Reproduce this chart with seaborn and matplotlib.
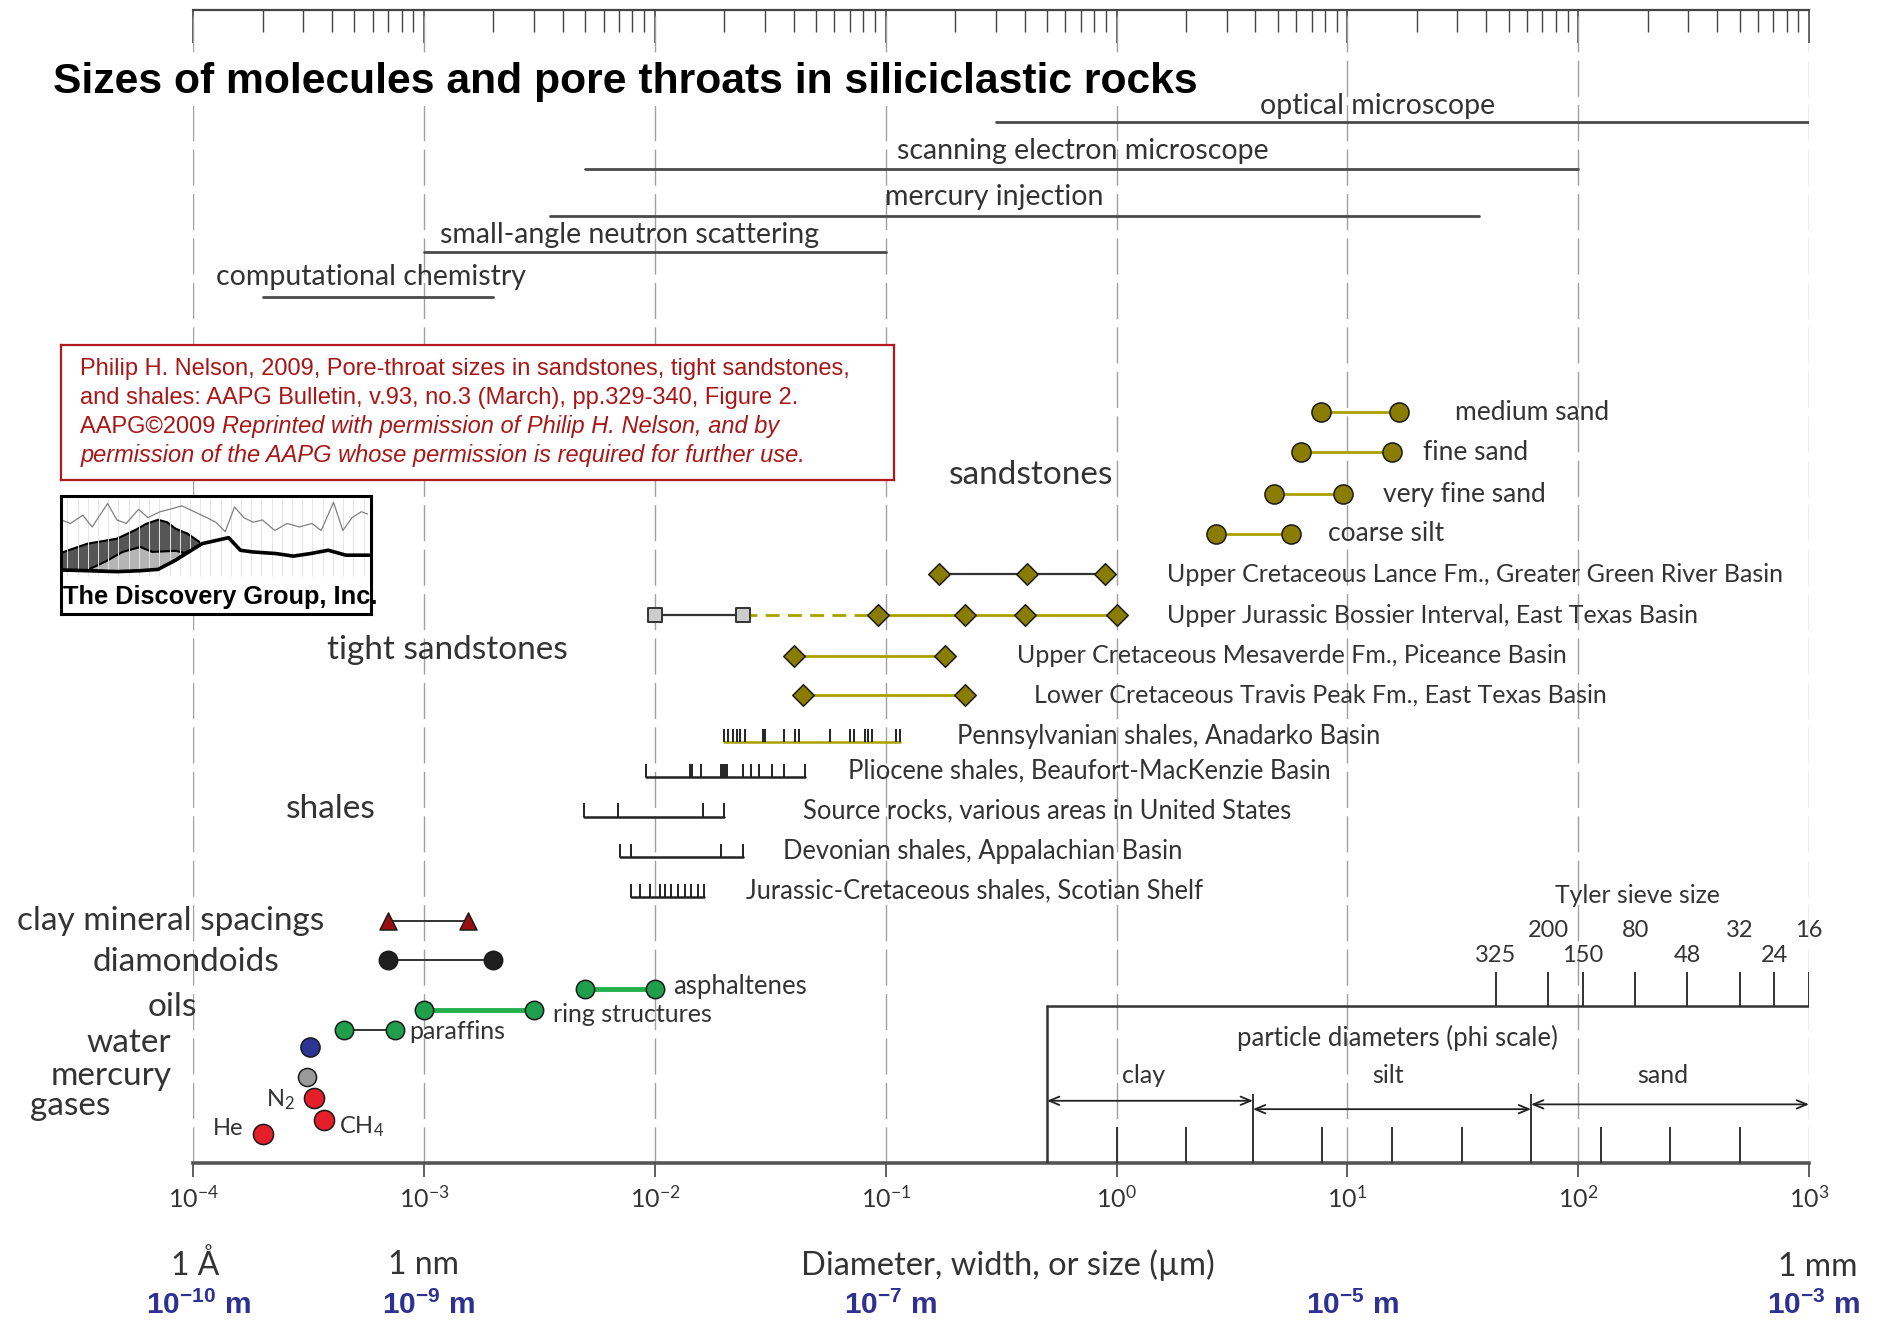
import numpy as np
import matplotlib
matplotlib.use("Agg")
import matplotlib.pyplot as plt
import seaborn as sns
from matplotlib import font_manager
from matplotlib.ticker import FixedLocator, FuncFormatter, LogLocator, NullFormatter

# ---- data: sizes in micrometres ----
instrument_names = ["optical microscope", "scanning electron microscope", "mercury injection",
                    "small-angle neutron scattering", "computational chemistry"]
instrument_min = [0.3, 0.005, 0.0035, 0.001, 0.0002]
instrument_max = [1000, 100, 37, 0.1, 0.002]

sand_names = ["medium sand", "fine sand", "very fine sand", "coarse silt"]
sand_min = [7.7, 6.3, 4.8, 2.7]
sand_max = [16.7, 15.6, 9.6, 5.7]

tight_names = ["Upper Cretaceous Lance Fm., Greater Green River Basin",
               "Upper Jurassic Bossier Interval, East Texas Basin",
               "Upper Cretaceous Mesaverde Fm., Piceance Basin",
               "Lower Cretaceous Travis Peak Fm., East Texas Basin"]
lance = [0.17, 0.41, 0.89]
bossier_squares = [0.010, 0.024]
bossier = [0.093, 0.22, 0.40, 1.0]
mesaverde = [0.040, 0.18]
travis_peak = [0.044, 0.22]

shale_names = ["Pennsylvanian shales, Anadarko Basin",
               "Pliocene shales, Beaufort-MacKenzie Basin",
               "Source rocks, various areas in United States",
               "Devonian shales, Appalachian Basin",
               "Jurassic-Cretaceous shales, Scotian Shelf"]
pennsylvanian = [0.0200, 0.0207, 0.0218, 0.0226, 0.0234, 0.0247, 0.0293, 0.0299, 0.0362,
                 0.0405, 0.0420, 0.0573, 0.0700, 0.0729, 0.0815, 0.0839, 0.0869, 0.111, 0.115]
pliocene = [0.00912, 0.0142, 0.0145, 0.0159, 0.0193, 0.0197, 0.0201, 0.0205, 0.0240,
            0.0262, 0.0282, 0.0321, 0.0362, 0.0447]
source_rocks = [0.00493, 0.00693, 0.0161, 0.0200]
devonian = [0.00707, 0.00787, 0.0193, 0.0240]
scotian = [0.00792, 0.00861, 0.00957, 0.0105, 0.0111, 0.0118, 0.0126, 0.0135,
           0.0144, 0.0154, 0.0164]

clay_spacings = [0.0007, 0.00155]
diamondoids = [0.0007, 0.002]
asphaltenes = [0.005, 0.01]
ring_structures = [0.001, 0.003]
paraffins = [0.00045, 0.00075]
water = [0.00032]
mercury = [0.00031]
gas_names = ["He", "N$_2$", "CH$_4$"]
gas_sizes = [0.0002, 0.000335, 0.00037]

sieve_mesh = ["325", "200", "150", "80", "48", "32", "24", "16"]
sieve_opening = [44, 74, 105, 177, 297, 500, 707, 1000]
phi_ticks = [0.5, 1, 2, 3.9, 7.8, 15.6, 31.25, 62.5, 125, 250, 500, 1000]
grain_classes = ["clay", "silt", "sand"]
grain_limits = [0.5, 3.9, 62.5, 1000]

decades = [-4, -3, -2, -1, 0, 1, 2, 3]
metre_exp = [-10, -9, -7, -5, -3]
metre_at = [1e-4, 1e-3, 1e-1, 10, 1000]

# logo sketch, percent of the logo box
logo_line_x = [0, 3, 7, 10, 15, 18, 21, 25, 28, 32, 35, 39, 43, 47, 50, 53, 56, 59,
               62, 65, 69, 73, 77, 81, 84, 88, 91, 94, 97, 99]
logo_line_y = [80, 77, 84, 74, 94, 80, 77, 89, 82, 87, 89, 92, 87, 82, 78, 70, 91, 82,
               78, 80, 71, 77, 74, 77, 71, 95, 71, 82, 87, 85]
logo_dark_x = [0, 8.5, 18, 23.7, 27.5, 31.3, 34.2, 37, 40.8, 45.5, 39.8, 37, 31.3, 25.6, 18, 8.5, 0]
logo_dark_y = [52, 59.8, 64, 71.1, 76.7, 80.1, 78.1, 72.5, 68.3, 59.8, 52, 45.8, 37.9, 36.8, 36, 36.8, 37.4]
logo_light_x = [8.5, 14.2, 19.9, 25.6, 29.4, 37, 39.8, 37, 31.3, 25.6, 18]
logo_light_y = [37.4, 44.4, 52.8, 57, 52.8, 53.7, 52, 45.8, 37.9, 36.8, 36]
logo_base_x = [0, 8.5, 18, 25.6, 31.3, 37, 45.5, 54.1, 57.9, 61.7, 69.3, 75, 80.6, 86.3, 92, 99.5]
logo_base_y = [37.4, 36.8, 36, 36.8, 37.9, 45.8, 59.8, 64.9, 54.2, 52.8, 51.4, 49.2, 51.4, 54.2, 50, 50]

# ---- layout (reference pixels, 1568 x 1110) ----
row_y = {
    "instruments": [102, 141, 180, 210, 248],
    "sand": [344, 377, 412, 445],
    "tight": [479, 513, 547, 580],
    "shale": [619, 648, 681, 715, 748],
    "clay": 768, "diamondoids": 801, "asphaltenes": 825, "ring": 842,
    "paraffins": 859, "water": 873, "mercury": 898, "gases": [946, 916, 934],
}

installed = {f.name for f in font_manager.fontManager.ttflist}


def pick(*names):
    for n in names:
        if n in installed:
            return n
    return "DejaVu Sans"


SANS = pick("Lato", "Open Sans", "Liberation Sans")
ARIAL = pick("Liberation Sans", "DejaVu Sans")
ARIAL_N = pick("Liberation Sans Narrow", "Liberation Sans")

sns.set_theme(style="white")
plt.rcParams["font.family"] = [SANS, "DejaVu Sans"]
plt.rcParams["mathtext.fontset"] = "custom"
plt.rcParams["mathtext.rm"] = SANS
plt.rcParams["mathtext.it"] = SANS + ":italic"
plt.rcParams["mathtext.bf"] = ARIAL + ":bold"

INK = "#333333"
OLIVE = "#8a7c00"
OLIVE_LINE = "#aaa000"
GREEN = "#1f9e4c"
EDGE = "#1a1a1a"

W, H = 1568.0, 1110.0
DEC = (1508 - 161) / 7.0


def fx(px):
    return px / W


def fy(py):
    return 1 - py / H


def xd(px):
    return 10 ** (-4 + (px - 161) / DEC)


fig = plt.figure(figsize=(18.81, 13.31), dpi=100)
ax = fig.add_axes([fx(161), fy(970), fx(1508) - fx(161), (970 - 8) / H])
ax.set_xscale("log")


def label(px, py, s, size=17, ha="left", color=INK, **kw):
    ax.text(xd(px), py, s, fontsize=size, ha=ha, va="center", color=color,
            clip_on=False, **kw)


def dots(xs, y, marker, color, s, edge=EDGE, lw=1.1):
    sns.scatterplot(x=xs, y=[y] * len(xs), marker=marker, color=color, s=s,
                    edgecolor=edge, linewidth=lw, ax=ax, zorder=6, legend=False)


# instruments
for name, lo, hi, y in zip(instrument_names, instrument_min, instrument_max, row_y["instruments"]):
    ax.plot([lo, hi], [y, y], color="#4a4a4a", lw=2.0, zorder=3)
label(1050, 88, instrument_names[0], 20.5)
label(748, 126, instrument_names[1], 20.5)
label(738, 164, instrument_names[2], 20.5)
label(367, 196, instrument_names[3], 20.5)
label(180, 231, instrument_names[4], 20.5)

# sandstones
for lo, hi, y in zip(sand_min, sand_max, row_y["sand"]):
    ax.plot([lo, hi], [y, y], color=OLIVE_LINE, lw=2.0, zorder=4)
    dots([lo, hi], y, "o", OLIVE, 190)
for name, px, y in zip(sand_names, [1213, 1186, 1153, 1107], row_y["sand"]):
    label(px, y, name, 19)
label(791, 396, "sandstones", 24)

# tight sandstones
ty = row_y["tight"]
ax.plot(lance, [ty[0]] * 3, color="#333333", lw=1.6, zorder=4)
dots(lance, ty[0], "D", OLIVE, 120)
ax.plot(bossier_squares, [ty[1]] * 2, color="#333333", lw=1.6, zorder=4)
ax.plot([bossier_squares[-1], bossier[0]], [ty[1]] * 2, color=OLIVE_LINE, lw=2.0,
        linestyle=(0, (5, 3)), zorder=4)
ax.plot(bossier, [ty[1]] * 4, color=OLIVE_LINE, lw=2.0, zorder=4)
dots(bossier_squares, ty[1], "s", "#cccccc", 110, edge="#333333", lw=1.4)
dots(bossier, ty[1], "D", OLIVE, 120)
for vals, y in [(mesaverde, ty[2]), (travis_peak, ty[3])]:
    ax.plot(vals, [y] * 2, color=OLIVE_LINE, lw=2.0, zorder=4)
    dots(vals, y, "D", OLIVE, 120)
for name, px, y in zip(tight_names, [973, 973, 848, 862], ty):
    label(px, y, name, 18)
label(273, 542, "tight sandstones", 24)

# shales: tick strips
for name, ticks, y, px, col in zip(shale_names,
                                   [pennsylvanian, pliocene, source_rocks, devonian, scotian],
                                   row_y["shale"], [798, 707, 669, 653, 622],
                                   [OLIVE_LINE, "#222222", "#222222", "#222222", "#222222"]):
    ax.plot([min(ticks), max(ticks)], [y, y], color=col, lw=1.8, zorder=4)
    ax.vlines(ticks, y - 11, y, color="#222222", lw=1.4, zorder=5)
    label(px, y - 5, name, 18.4)
label(238, 675, "shales", 24)

# molecules
ax.plot(clay_spacings, [row_y["clay"]] * 2, color="#333333", lw=1.4, zorder=4)
dots(clay_spacings, row_y["clay"], "^", "#990f0f", 150)
ax.plot(diamondoids, [row_y["diamondoids"]] * 2, color="#333333", lw=1.4, zorder=4)
dots(diamondoids, row_y["diamondoids"], "o", "#1f1f1f", 175)
ax.plot(asphaltenes, [row_y["asphaltenes"]] * 2, color="#22b04a", lw=3.5, zorder=4)
dots(asphaltenes, row_y["asphaltenes"], "o", GREEN, 175)
ax.plot(ring_structures, [row_y["ring"]] * 2, color="#22b04a", lw=3.5, zorder=4)
dots(ring_structures, row_y["ring"], "o", GREEN, 175)
ax.plot(paraffins, [row_y["paraffins"]] * 2, color="#333333", lw=1.4, zorder=4)
dots(paraffins, row_y["paraffins"], "o", GREEN, 175)
dots(water, row_y["water"], "o", "#2b3593", 190)
dots(mercury, row_y["mercury"], "o", "#9a9a9a", 170)
for g, y in zip(gas_sizes, row_y["gases"]):
    dots([g], y, "o", "#e41f2a", 210)

label(561, 823, "asphaltenes", 18.5)
label(461, 846, "ring structures", 18)
label(341, 860, "paraffins", 18)
label(203, 941, gas_names[0], 17, ha="right")
label(222, 917, gas_names[1], 17)
label(283, 940, gas_names[2], 17)
for s, px, py in [("clay mineral spacings", 270, 768), ("diamondoids", 233, 802),
                  ("oils", 164, 840), ("water", 143, 870), ("mercury", 143, 897),
                  ("gases", 92, 922)]:
    label(px, py, s, 24, ha="right")

# particle diameter box, phi scale and Tyler sieve
ax.plot([phi_ticks[0], phi_ticks[-1]], [839, 839], color="#333333", lw=1.8, zorder=4)
ax.plot([phi_ticks[0], phi_ticks[0]], [839, 970], color="#333333", lw=1.8, zorder=4)
ax.vlines([t for t in phi_ticks[1:-1] if t not in grain_limits], 940, 970,
          color="#333333", lw=1.4, zorder=4)
ax.vlines(grain_limits[1:-1], 912, 970, color="#333333", lw=1.4, zorder=4)
ax.vlines(sieve_opening, 811, 839, color="#333333", lw=1.4, zorder=4)
for i, (mesh, op) in enumerate(zip(sieve_mesh, sieve_opening)):
    ax.text(op, 797 if i % 2 == 0 else 776, mesh, fontsize=17, ha="center",
            va="center", color=INK, clip_on=False)
arrow_y = [918, 925, 921]
for name, lo, hi, y, px in zip(grain_classes, grain_limits[:-1], grain_limits[1:],
                               arrow_y, [953, 1157, 1386]):
    ax.annotate("", xy=(hi, y), xytext=(lo, y),
                arrowprops=dict(arrowstyle="<->,head_length=0.6,head_width=0.25",
                                lw=1.3, color="#222222", shrinkA=0, shrinkB=0),
                zorder=5)
    label(px, 897, name, 18, ha="center")
label(1165, 866, "particle diameters (phi scale)", 18.5, ha="center")
label(1365, 747, "Tyler sieve size", 17.8, ha="center")

# axes furniture
ax.set_xlim(1e-4, 1e3)
ax.set_ylim(970, 8)
ax.set_yticks([])
ax.set_xlabel("")
ax.set_ylabel("")
for side in ["left", "right", "top"]:
    ax.spines[side].set_visible(False)
ax.spines["bottom"].set_linewidth(2.6)
ax.spines["bottom"].set_color("#555555")
ax.xaxis.set_major_locator(FixedLocator([10.0 ** d for d in decades]))
ax.xaxis.set_minor_locator(FixedLocator([]))
ax.xaxis.set_major_formatter(FuncFormatter(lambda v, p: "$10^{%d}$" % round(np.log10(v))))
ax.tick_params(axis="x", which="major", bottom=True, direction="out", length=10,
               width=1.2, color="#444444", labelsize=18, labelcolor=INK, pad=6)
ax.grid(True, axis="x", which="major", color="#a0a0a0", lw=1.0, linestyle=(0, (26, 6)))
ax.set_axisbelow(True)

sec = ax.secondary_xaxis("top")
sec.xaxis.set_major_locator(FixedLocator([10.0 ** d for d in decades]))
sec.xaxis.set_minor_locator(LogLocator(base=10, subs=np.arange(2, 10), numticks=100))
sec.xaxis.set_major_formatter(NullFormatter())
sec.xaxis.set_minor_formatter(NullFormatter())
sec.tick_params(axis="x", which="major", direction="in", length=24, width=1.2, color="#444444")
sec.tick_params(axis="x", which="minor", direction="in", length=16, width=1.0, color="#444444")
sec.spines["top"].set_linewidth(1.6)
sec.spines["top"].set_color("#444444")

# bottom scale captions
label(163, 1055, "1 Å", 23, ha="center")
label(353, 1055, "1 nm", 23, ha="center")
label(840, 1055, "Diameter, width, or size (µm)", 23.5, ha="center")
label(1548, 1057, "1 mm", 23, ha="right")
for e, v in zip(metre_exp, metre_at):
    px = 161 + (np.log10(v) + 4) * DEC + 4
    ax.text(xd(px), 1089, r"$\mathbf{10^{%d}}$ m" % e, fontsize=21.5, ha="center", va="center",
            color="#2e3192", family=ARIAL, weight="bold", clip_on=False)

# title
fig.text(fx(44), fy(68), "Sizes of molecules and pore throats in siliciclastic rocks",
         fontsize=30.7, weight="bold", family=ARIAL_N, color="black", va="center",
         bbox=dict(fc="white", ec="none", pad=3))

# citation box
cb = fig.add_axes([fx(51), fy(400), fx(745) - fx(51), (400 - 288) / H])
cb.set_xticks([])
cb.set_yticks([])
cb.set_facecolor("white")
for s in cb.spines.values():
    s.set_color("#b3191c")
    s.set_linewidth(1.6)
RED = "#a81616"
CFS = 17
cx = (67 - 51) / (745 - 51)
cb.text(cx, (400 - 308) / 112, "Philip H. Nelson, 2009, Pore-throat sizes in sandstones, tight sandstones,",
        transform=cb.transAxes, fontsize=CFS, color=RED, family=ARIAL, va="center")
cb.text(cx, (400 - 332) / 112, "and shales: AAPG Bulletin, v.93, no.3 (March), pp.329-340, Figure 2.",
        transform=cb.transAxes, fontsize=CFS, color=RED, family=ARIAL, va="center")
t3 = cb.text(cx, (400 - 356) / 112, "AAPG©2009 ", transform=cb.transAxes, fontsize=CFS,
             color=RED, family=ARIAL, va="center")
cb.annotate("Reprinted with permission of Philip H. Nelson, and by", xy=(1, 0), xycoords=t3,
            va="bottom", ha="left", fontsize=CFS, color=RED, family=ARIAL, style="italic")
cb.text(cx, (400 - 380) / 112, "permission of the AAPG whose permission is required for further use.",
        transform=cb.transAxes, fontsize=CFS, color=RED, family=ARIAL, va="center", style="italic")

# logo
lg = fig.add_axes([fx(51), fy(512), fx(309) - fx(51), (512 - 414) / H])
lg.set_xlim(0, 100)
lg.set_ylim(0, 100)
lg.set_xticks([])
lg.set_yticks([])
lg.set_facecolor("white")
for s in lg.spines.values():
    s.set_color("black")
    s.set_linewidth(2.2)
lg.vlines(np.arange(2, 100, 3.3), 32, 99, color="#e4e4e4", lw=0.7)
lg.plot(logo_line_x, logo_line_y, color="#808080", lw=0.9)
lg.fill(logo_dark_x, logo_dark_y, fc="#565656", ec="black", lw=1.5)
lg.fill(logo_light_x, logo_light_y, fc="#b5b5b5", ec="black", lw=1.5)
lg.plot(logo_base_x, logo_base_y, color="black", lw=2.6)
lg.text(0.5, 14, "The Discovery Group, Inc.", fontsize=18.3, weight="bold", family=ARIAL_N,
        color="black", va="center", ha="left")

fig.savefig("out.png", dpi=100)
